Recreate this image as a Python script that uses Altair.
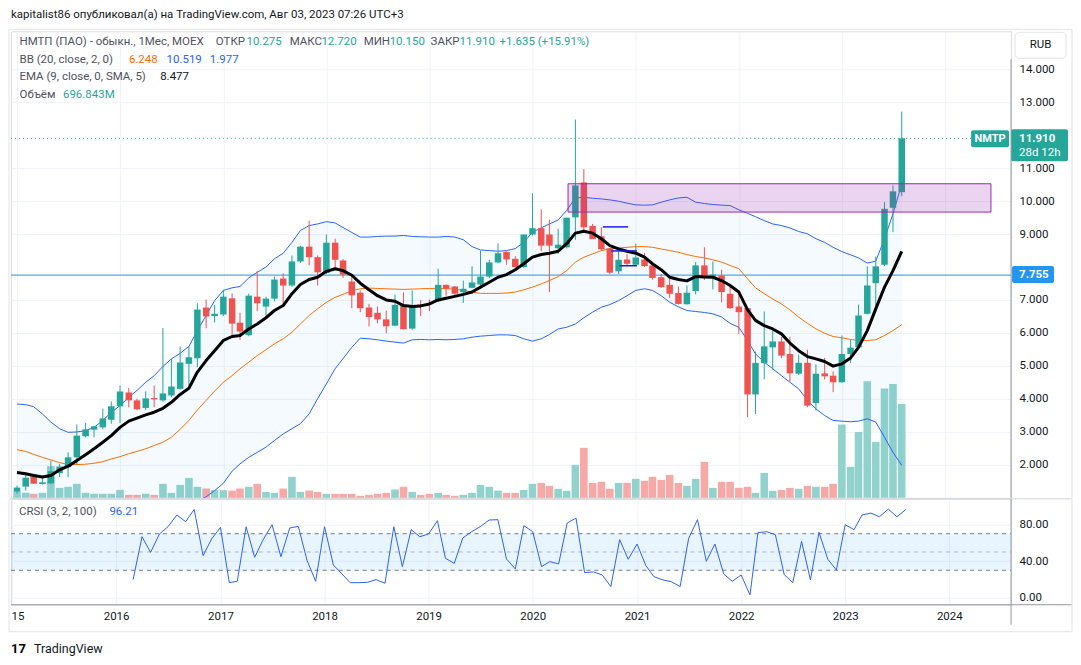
import altair as alt
import pandas as pd

FONT = "Roboto"

# ---------------- data (monthly, Jan 2015 .. Aug 2023) ----------------
months = [f"{2015 + i // 12}-{i % 12 + 1:02d}-01" for i in range(104)]

open_ = [
    1.18, 1.33, 1.64, 1.41, 1.43, 1.74, 1.92, 2.22, 2.86, 3.06,
    3.13, 3.36, 3.77, 4.19, 3.95, 3.72, 4.02, 3.95, 4.10, 4.30,
    5.06, 5.23, 6.77, 6.51, 6.56, 7.05, 6.31, 5.93, 7.10, 6.80,
    7.04, 7.65, 7.44, 8.17, 8.62, 8.30, 7.82, 8.74, 8.20, 7.56,
    7.22, 6.77, 6.61, 6.41, 6.22, 6.83, 6.13, 6.87, 6.91, 6.96,
    7.46, 7.41, 7.24, 7.37, 7.47, 7.71, 8.14, 8.46, 8.25, 8.00,
    8.99, 9.18, 8.99, 8.57, 8.60, 9.51, 10.57, 9.25, 8.93, 8.57,
    7.87, 8.23, 8.07, 8.23, 8.05, 7.69, 7.46, 7.21, 6.87, 7.27,
    8.05, 7.71, 7.74, 7.19, 6.80, 6.75, 4.13, 5.08, 5.56, 5.74,
    5.36, 4.76, 5.09, 3.87, 4.77, 4.70, 4.50, 5.36, 5.56, 6.58,
    7.51, 8.07, 9.80, 10.275]
high = [
    1.36, 1.74, 1.72, 1.60, 2.12, 2.02, 2.37, 3.22, 3.27, 3.18,
    3.70, 3.92, 4.40, 4.33, 4.00, 4.22, 4.40, 6.15, 5.21, 5.59,
    5.59, 6.90, 7.01, 6.85, 7.31, 7.20, 6.61, 7.19, 7.88, 7.10,
    7.71, 7.81, 8.35, 8.64, 9.41, 8.35, 8.99, 8.86, 8.24, 7.74,
    7.29, 6.88, 6.80, 6.68, 7.16, 7.23, 7.29, 7.00, 7.01, 7.95,
    7.47, 7.42, 7.59, 8.02, 8.50, 8.22, 8.72, 8.47, 8.33, 8.99,
    10.24, 9.75, 9.44, 9.16, 9.50, 12.48, 10.98, 9.31, 9.21, 8.58,
    8.50, 8.40, 8.71, 8.43, 8.08, 7.79, 7.74, 7.41, 7.44, 8.15,
    8.60, 8.17, 7.92, 7.49, 7.19, 6.75, 5.43, 6.65, 6.07, 5.87,
    5.87, 5.34, 5.49, 5.04, 5.24, 4.83, 5.92, 5.79, 6.86, 8.02,
    8.32, 9.97, 10.48, 12.72]
low = [
    1.12, 1.21, 1.41, 1.39, 1.40, 1.62, 1.62, 2.00, 2.83, 2.83,
    3.07, 3.24, 3.26, 3.74, 3.65, 3.66, 3.74, 3.91, 4.05, 4.28,
    4.40, 4.96, 6.14, 6.32, 6.51, 5.92, 5.79, 5.90, 6.66, 6.53,
    6.96, 6.88, 7.40, 8.12, 8.05, 7.44, 7.79, 7.95, 7.67, 6.75,
    6.63, 6.20, 6.29, 5.99, 6.20, 6.11, 6.10, 6.51, 6.66, 6.94,
    7.13, 7.08, 6.91, 7.35, 7.44, 7.66, 8.12, 8.07, 7.98, 7.97,
    8.96, 8.48, 7.24, 8.40, 8.57, 8.83, 9.11, 8.85, 8.50, 7.79,
    7.79, 8.02, 8.05, 8.01, 7.62, 7.37, 7.06, 6.86, 6.86, 7.17,
    7.61, 7.32, 6.93, 6.73, 5.97, 3.44, 3.54, 4.59, 4.88, 5.23,
    4.52, 4.72, 3.74, 3.64, 4.58, 4.20, 4.48, 5.08, 5.52, 6.56,
    6.63, 8.03, 9.06, 10.15]
close = [
    1.30, 1.60, 1.42, 1.46, 1.80, 1.94, 2.22, 2.88, 3.07, 3.16,
    3.40, 3.77, 4.22, 3.95, 3.68, 4.01, 3.98, 4.16, 4.37, 5.10,
    5.26, 6.71, 6.50, 6.58, 7.10, 6.28, 6.04, 7.13, 6.90, 7.04,
    7.62, 7.44, 8.17, 8.62, 8.30, 7.84, 8.74, 8.22, 7.77, 7.14,
    6.75, 6.48, 6.41, 6.20, 6.85, 6.11, 6.82, 6.81, 6.87, 7.46,
    7.34, 7.19, 7.34, 7.53, 7.71, 8.14, 8.42, 8.23, 8.00, 8.99,
    9.18, 8.65, 8.65, 8.68, 9.50, 10.48, 9.21, 8.85, 8.54, 7.83,
    8.22, 8.10, 8.29, 8.03, 7.67, 7.39, 7.19, 6.88, 7.22, 8.05,
    7.71, 7.77, 7.24, 6.75, 6.63, 4.13, 5.09, 5.59, 5.74, 5.31,
    4.77, 5.09, 3.79, 4.76, 4.68, 4.50, 5.36, 5.55, 6.53, 7.44,
    8.02, 9.77, 10.30, 11.91]
volume_m = [
    49, 37, 30, 37, 235, 74, 82, 104, 37, 30,
    30, 30, 59, 22, 22, 30, 22, 104, 37, 96,
    148, 82, 69, 57, 57, 54, 69, 82, 104, 44,
    37, 69, 156, 44, 54, 44, 30, 30, 30, 30,
    15, 22, 30, 37, 62, 82, 44, 22, 30, 37,
    22, 15, 22, 37, 96, 82, 54, 37, 37, 59,
    104, 111, 89, 67, 52, 245, 371, 111, 119, 67,
    111, 111, 141, 126, 156, 133, 170, 111, 89, 141,
    267, 74, 119, 119, 74, 82, 37, 185, 52, 59,
    74, 67, 89, 82, 82, 104, 544, 230, 489, 865,
    415, 811, 845, 696.843]
bb_upper = [
    3.84, 3.82, 3.76, 3.54, 3.29, 3.09, 2.98, 2.99, 3.03, 3.13,
    3.34, 3.59, 3.79, 4.05, 4.25, 4.50, 4.70, 4.98, 5.21, 5.38,
    5.59, 6.07, 6.53, 6.98, 7.29, 7.37, 7.41, 7.67, 7.84, 8.00,
    8.25, 8.42, 8.75, 9.11, 9.26, 9.31, 9.38, 9.34, 9.20, 9.05,
    8.91, 8.91, 8.93, 8.94, 8.94, 8.96, 8.93, 8.92, 8.91, 8.91,
    8.93, 8.91, 8.83, 8.62, 8.52, 8.50, 8.48, 8.50, 8.56, 8.75,
    9.06, 9.19, 9.31, 9.43, 9.72, 10.10, 10.12, 10.09, 10.07, 10.04,
    10.00, 9.94, 9.89, 9.88, 9.89, 9.97, 10.04, 10.10, 10.12, 9.97,
    9.93, 9.90, 9.88, 9.87, 9.74, 9.63, 9.53, 9.41, 9.31, 9.26,
    9.19, 9.08, 9.01, 8.86, 8.75, 8.60, 8.47, 8.37, 8.28, 8.12,
    8.18, 8.86, 9.62, 10.519]
bb_basis = [
    2.45, 2.40, 2.31, 2.22, 2.14, 2.06, 2.00, 2.00, 2.01, 2.04,
    2.09, 2.17, 2.24, 2.33, 2.40, 2.48, 2.58, 2.68, 2.83, 3.07,
    3.34, 3.66, 3.95, 4.23, 4.50, 4.70, 4.91, 5.11, 5.31, 5.49,
    5.67, 5.82, 6.02, 6.27, 6.53, 6.73, 6.93, 7.08, 7.17, 7.28,
    7.34, 7.36, 7.35, 7.34, 7.33, 7.32, 7.33, 7.34, 7.35, 7.35,
    7.34, 7.33, 7.29, 7.24, 7.20, 7.20, 7.20, 7.21, 7.24, 7.31,
    7.39, 7.49, 7.59, 7.71, 7.89, 8.15, 8.30, 8.40, 8.50, 8.55,
    8.58, 8.60, 8.62, 8.62, 8.60, 8.55, 8.50, 8.45, 8.38, 8.32,
    8.28, 8.22, 8.15, 8.05, 7.95, 7.64, 7.37, 7.19, 7.03, 6.88,
    6.70, 6.48, 6.29, 6.12, 5.99, 5.89, 5.85, 5.80, 5.77, 5.77,
    5.79, 5.92, 6.07, 6.248]
bb_lower = [
    0.95, 0.90, 0.85, 0.85, 0.90, 0.90, 0.90, 0.90, 0.90, 0.85,
    0.80, 0.75, 0.69, 0.61, 0.55, 0.46, 0.46, 0.38, 0.45, 0.60,
    0.75, 0.90, 1.02, 1.21, 1.43, 1.80, 2.02, 2.22, 2.37, 2.53,
    2.73, 2.93, 3.09, 3.24, 3.54, 4.00, 4.45, 4.91, 5.22, 5.56,
    5.84, 5.82, 5.79, 5.75, 5.72, 5.69, 5.79, 5.80, 5.79, 5.80,
    5.79, 5.80, 5.82, 5.87, 5.90, 5.92, 5.94, 5.94, 5.92, 5.82,
    5.75, 5.82, 5.95, 6.12, 6.17, 6.27, 6.46, 6.63, 6.78, 6.86,
    6.98, 7.13, 7.29, 7.34, 7.29, 7.13, 6.93, 6.79, 6.68, 6.65,
    6.62, 6.58, 6.48, 6.29, 6.17, 5.77, 5.36, 5.11, 4.91, 4.70,
    4.50, 4.30, 3.95, 3.69, 3.49, 3.34, 3.32, 3.30, 3.32, 3.39,
    3.29, 2.83, 2.37, 1.977]
ema = [
    1.76, 1.72, 1.67, 1.62, 1.67, 1.84, 1.95, 2.12, 2.30, 2.48,
    2.68, 2.88, 3.13, 3.32, 3.41, 3.51, 3.59, 3.71, 3.89, 4.13,
    4.32, 4.81, 5.16, 5.46, 5.77, 5.89, 5.92, 6.12, 6.27, 6.46,
    6.68, 6.83, 7.19, 7.47, 7.62, 7.69, 7.87, 7.95, 7.89, 7.75,
    7.51, 7.31, 7.13, 7.00, 6.96, 6.83, 6.80, 6.82, 6.88, 7.00,
    7.05, 7.11, 7.17, 7.24, 7.39, 7.54, 7.69, 7.77, 7.92, 8.10,
    8.30, 8.38, 8.42, 8.48, 8.71, 9.03, 9.09, 9.03, 8.86, 8.65,
    8.55, 8.48, 8.42, 8.30, 8.10, 7.92, 7.69, 7.62, 7.58, 7.71,
    7.70, 7.69, 7.59, 7.44, 7.24, 6.70, 6.38, 6.22, 6.12, 5.97,
    5.69, 5.46, 5.28, 5.21, 5.13, 4.99, 5.06, 5.24, 5.56, 6.07,
    6.73, 7.39, 7.89, 8.477]
# CRSI starts with the 15th bar (Mar 2016)
crsi = [
    20.2, 66.7, 49.6, 69.6, 77.6, 90.4, 83.1, 96.5, 46.0, 64.2,
    76.9, 16.5, 18.0, 77.6, 44.2, 64.2, 79.8, 44.9, 76.2, 78.0,
    40.5, 18.0, 77.6, 35.8, 26.7, 16.5, 16.5, 16.9, 19.8, 15.8,
    77.6, 34.0, 74.4, 66.7, 69.6, 84.2, 43.1, 37.6, 65.3, 72.2,
    77.6, 84.9, 85.3, 42.4, 31.5, 78.7, 72.2, 34.0, 39.5, 36.9,
    81.6, 87.1, 27.5, 28.2, 24.9, 12.2, 63.5, 42.0, 58.7, 35.1,
    23.1, 19.5, 17.6, 12.2, 64.9, 85.3, 39.8, 58.7, 26.0, 18.0,
    24.9, 3.1, 71.1, 72.2, 68.9, 25.3, 16.5, 61.6, 19.5, 71.5,
    42.0, 30.4, 79.8, 74.4, 90.4, 92.5, 88.5, 96.9, 88.5, 96.21]

# drawings
zone_start, zone_end, zone_top, zone_bottom = ["2020-05-06"], ["2024-06-12"], [10.53], [9.67]
seg_start = ["2020-09-06", "2020-10-06", "2020-11-04"]
seg_end = ["2020-12-05", "2021-01-05", "2021-01-05"]
seg_level = [9.22, 8.49, 8.04]
hline_level = [7.755]
last_close = [11.91]
crsi_levels = [70, 50, 30]
year_ticks = list(range(2015, 2025))
price_ticks = [2, 3, 4, 5, 6, 7, 9, 10, 11, 13, 14]

# ---------------- frames ----------------
UP, DOWN = "#26a69a", "#ef5350"
df = pd.DataFrame({
    "date": months, "open": open_, "high": high, "low": low, "close": close,
    "vol": volume_m, "bb_up": bb_upper, "bb_mid": bb_basis, "bb_lo": bb_lower, "ema": ema,
})
df["col"] = [UP if c >= o else DOWN for o, c in zip(open_, close)]
df["vcol"] = ["#92d2cc" if c >= o else "#f7a9a7" for o, c in zip(open_, close)]
crsi_df = pd.DataFrame({"date": months[104 - len(crsi):], "crsi": crsi})

W, H1, H2 = 1001, 467, 106
GRID = "#f0f3fa"
AXC = "#9598a1"
FRAME = "#e0e3eb"
TXT = "#131722"
GREY = "#4f525d"

xdomain = [alt.DateTime(year=2014, month=12, date=28, hours=12, utc=True),
           alt.DateTime(year=2024, month=8, date=4, hours=14, utc=True)]
xscale = alt.Scale(type="utc", domain=xdomain)
yvals = [alt.DateTime(year=y, month=1, date=1, utc=True) for y in year_ticks]

pax = alt.Axis(values=yvals, grid=True, gridColor=GRID, labels=False, ticks=False,
               domain=False, title=None)
cax = alt.Axis(values=yvals, grid=True, gridColor=GRID, ticks=False, domain=False,
               title=None, labelColor=TXT, labelFontSize=11.5, labelFont=FONT,
               labelPadding=6, labelFlush=False,
               labelExpr="utcFormat(datum.value, '%Y') == '2015' ? '' : utcFormat(datum.value, '%Y')")

price_scale = alt.Scale(domain=[0.989, 15.162], nice=False, zero=False)
price_axis = alt.Axis(orient="right", values=price_ticks, format=".3f", title=None,
                      grid=True, gridColor=GRID, domain=False, ticks=False, labelPadding=8,
                      labelAlign="left", labelColor=TXT, labelFontSize=11.5, labelFont=FONT)
crsi_scale = alt.Scale(domain=[-7.64, 108.05], nice=False, zero=False)
crsi_axis = alt.Axis(orient="right", values=[0, 40, 80], format=".2f", title=None,
                     grid=True, gridColor=GRID, domain=False, ticks=False, labelPadding=8,
                     labelAlign="left", labelColor=TXT, labelFontSize=11.5, labelFont=FONT)


def PX(field="date:T", axis=pax):
    return alt.X(field, scale=xscale, axis=axis)


def PY(field):
    return alt.Y(field, type="quantitative", scale=price_scale, axis=price_axis)


def CY(field):
    return alt.Y(field, type="quantitative", scale=crsi_scale, axis=crsi_axis)


one = pd.DataFrame({"k": [0]})


def txt(s, x, y, color, size=11.5, align="left", weight="normal"):
    return alt.Chart(one).mark_text(text=s, align=align, baseline="middle", fontSize=size,
                                    font=FONT, color=color, fontWeight=weight).encode(
        x=alt.value(x), y=alt.value(y))


def box(x, x2, y, y2, fill, stroke=None, radius=2):
    kw = dict(fill=fill, cornerRadius=radius)
    if stroke:
        kw.update(stroke=stroke, strokeWidth=1)
    return alt.Chart(one).mark_rect(**kw).encode(
        x=alt.value(x), x2=alt.value(x2), y=alt.value(y), y2=alt.value(y2))


def rule(x, x2, y, y2, color, width=1):
    return alt.Chart(one).mark_rule(color=color, strokeWidth=width).encode(
        x=alt.value(x), x2=alt.value(x2), y=alt.value(y), y2=alt.value(y2))


base = alt.Chart(df)

band = base.mark_area(color="#2196f3", opacity=0.05, clip=True).encode(
    x=PX(), y=PY("bb_up"), y2="bb_lo")
hline = alt.Chart(pd.DataFrame({"lvl": hline_level})).mark_rule(
    color="#2196f3", strokeWidth=1).encode(y=PY("lvl"), x=alt.value(0), x2=alt.value(W))
pline = alt.Chart(pd.DataFrame({"lvl": last_close})).mark_rule(
    color=UP, strokeDash=[1, 3], strokeWidth=1).encode(y=PY("lvl"), x=alt.value(0), x2=alt.value(961))
bb_u = base.mark_line(color="#2962ff", strokeWidth=1, clip=True).encode(x=PX(), y=PY("bb_up"))
bb_l = base.mark_line(color="#2962ff", strokeWidth=1, clip=True).encode(x=PX(), y=PY("bb_lo"))
bb_m = base.mark_line(color="#ff6d00", strokeWidth=1, clip=True).encode(x=PX(), y=PY("bb_mid"))
wicks = base.mark_rule(strokeWidth=1).encode(
    x=PX(), y=PY("low"), y2="high", color=alt.Color("col:N", scale=None))
bodies = base.mark_bar(size=6.5).encode(
    x=PX(), y=PY("open"), y2="close", color=alt.Color("col:N", scale=None))
ema_line = base.mark_line(color="#000000", strokeWidth=3, strokeJoin="round").encode(
    x=PX(), y=PY("ema"))
zone = alt.Chart(pd.DataFrame({"s": zone_start, "e": zone_end, "t": zone_top, "b": zone_bottom})
                 ).mark_rect(fill="#9c27b0", fillOpacity=0.2, stroke="#9c27b0", strokeWidth=1).encode(
    x=PX("s:T"), x2="e:T", y=PY("t"), y2="b")
segs = alt.Chart(pd.DataFrame({"s": seg_start, "e": seg_end, "lvl": seg_level})).mark_rule(
    color="#1c1ce8", strokeWidth=1.5).encode(x=PX("s:T"), x2="e:T", y=PY("lvl"))

legend = [
    txt("kapitalist86 опубликовал(а) на TradingView.com, Авг 03, 2023 07:26 UTC+3", 0, -16, TXT),
    txt("НМТП (ПАО) - обыкн., 1Мес, MOEX", 8.5, 11, GREY),
    txt("ОТКР", 205, 11, GREY), txt("10.275", 235.7, 11, UP),
    txt("МАКС", 279, 11, GREY), txt("12.720", 310.7, 11, UP),
    txt("МИН", 353, 11, GREY), txt("10.150", 379, 11, UP),
    txt("ЗАКР", 420, 11, GREY), txt("11.910", 449, 11, UP),
    txt("+1.635 (+15.91%)", 489, 11, UP),
    txt("BB (20, close, 2, 0)", 8.5, 28.3, GREY), txt("6.248", 118, 28.3, "#ff6d00"),
    txt("10.519", 155.7, 28.3, "#2962ff"), txt("1.977", 199, 28.3, "#2962ff"),
    txt("EMA (9, close, 0, SMA, 5)", 8.5, 45.7, GREY), txt("8.477", 149.3, 45.7, TXT),
    txt("Объём", 8.5, 63.3, GREY), txt("696.843M", 52, 63.3, UP),
]
labels = [
    box(961, 999, 99, 116, UP), txt("NMTP", 980, 107.5, "white", 11, "center", "bold"),
    box(1001, 1058, 98, 130, UP), txt("11.910", 1009, 107.5, "white", 11.5, "left", "bold"),
    txt("28d 12h", 1009, 122, "white", 11.5),
    box(1002, 1044, 235, 252, "#2196f3"), txt("7.755", 1009, 243.5, "white", 11.5, "left", "bold"),
    box(1005, 1056, 1, 27, "white", FRAME, 4), txt("RUB", 1030.5, 14, TXT, 11.5, "center"),
    rule(1001, 1001, 28, H1, AXC),
    rule(-2, -2, -2, H1, FRAME), rule(1062, 1062, -2, H1, FRAME), rule(-2, 1062, -2, -2, FRAME),
]

price_inner = alt.layer(band, hline, pline, bb_u, bb_l, bb_m, wicks, bodies, ema_line,
                        zone, segs, *legend, *labels)
vol = base.mark_bar(size=7.6).encode(
    x=PX(), y=alt.Y("vol:Q", scale=alt.Scale(domain=[0, 3462], nice=False), axis=None),
    color=alt.Color("vcol:N", scale=None))
price = alt.layer(vol, price_inner).resolve_scale(y="independent").properties(width=W, height=H1)

# ---------------- CRSI pane ----------------
cband = alt.Chart(pd.DataFrame({"a": [crsi_levels[0]], "b": [crsi_levels[2]]})).mark_rect(
    color="#2196f3", opacity=0.1).encode(y=CY("a"), y2="b", x=alt.value(0), x2=alt.value(W))
cdash = alt.Chart(pd.DataFrame({"lvl": [crsi_levels[0], crsi_levels[2]]})).mark_rule(
    color="#787b86", strokeDash=[4, 4], strokeWidth=1).encode(
    y=CY("lvl"), x=alt.value(0), x2=alt.value(W))
cmid = alt.Chart(pd.DataFrame({"lvl": [crsi_levels[1]]})).mark_rule(
    color="#787b86", opacity=0.5, strokeDash=[4, 4], strokeWidth=1).encode(
    y=CY("lvl"), x=alt.value(0), x2=alt.value(W))
cline = alt.Chart(crsi_df).mark_line(color="#2962ff", strokeWidth=1).encode(
    x=PX(axis=cax), y=CY("crsi"))
crsi_extra = [
    txt("CRSI (3, 2, 100)", 8, 13, GREY), txt("96.21", 98.5, 13, "#2962ff"),
    rule(-2, 1062, 0, 0, "#d1d4dc"),
    rule(0, 1062, H2, H2, AXC),
    rule(1001, 1001, 0, 126, AXC),
    rule(-2, -2, 0, 133, FRAME), rule(1062, 1062, 0, 133, FRAME), rule(-2, 1062, 133, 133, FRAME),
    txt("15", 0.5, H2 + 12, TXT, 11.5, "left"),
    txt("17", 0, 150, "#000000", 13, "left", "bold"),
    txt("TradingView", 23, 150, TXT, 12.5),
]
crsi_chart = alt.layer(cband, cdash, cmid, cline, *crsi_extra).properties(width=W, height=H2)

chart = alt.vconcat(price, crsi_chart, spacing=-2).resolve_scale(
    x="independent", y="independent").properties(padding=0, background="white").configure_view(
    strokeWidth=0).configure(font=FONT)

chart.save("out.html", embed_options={"renderer": "svg", "actions": False})
